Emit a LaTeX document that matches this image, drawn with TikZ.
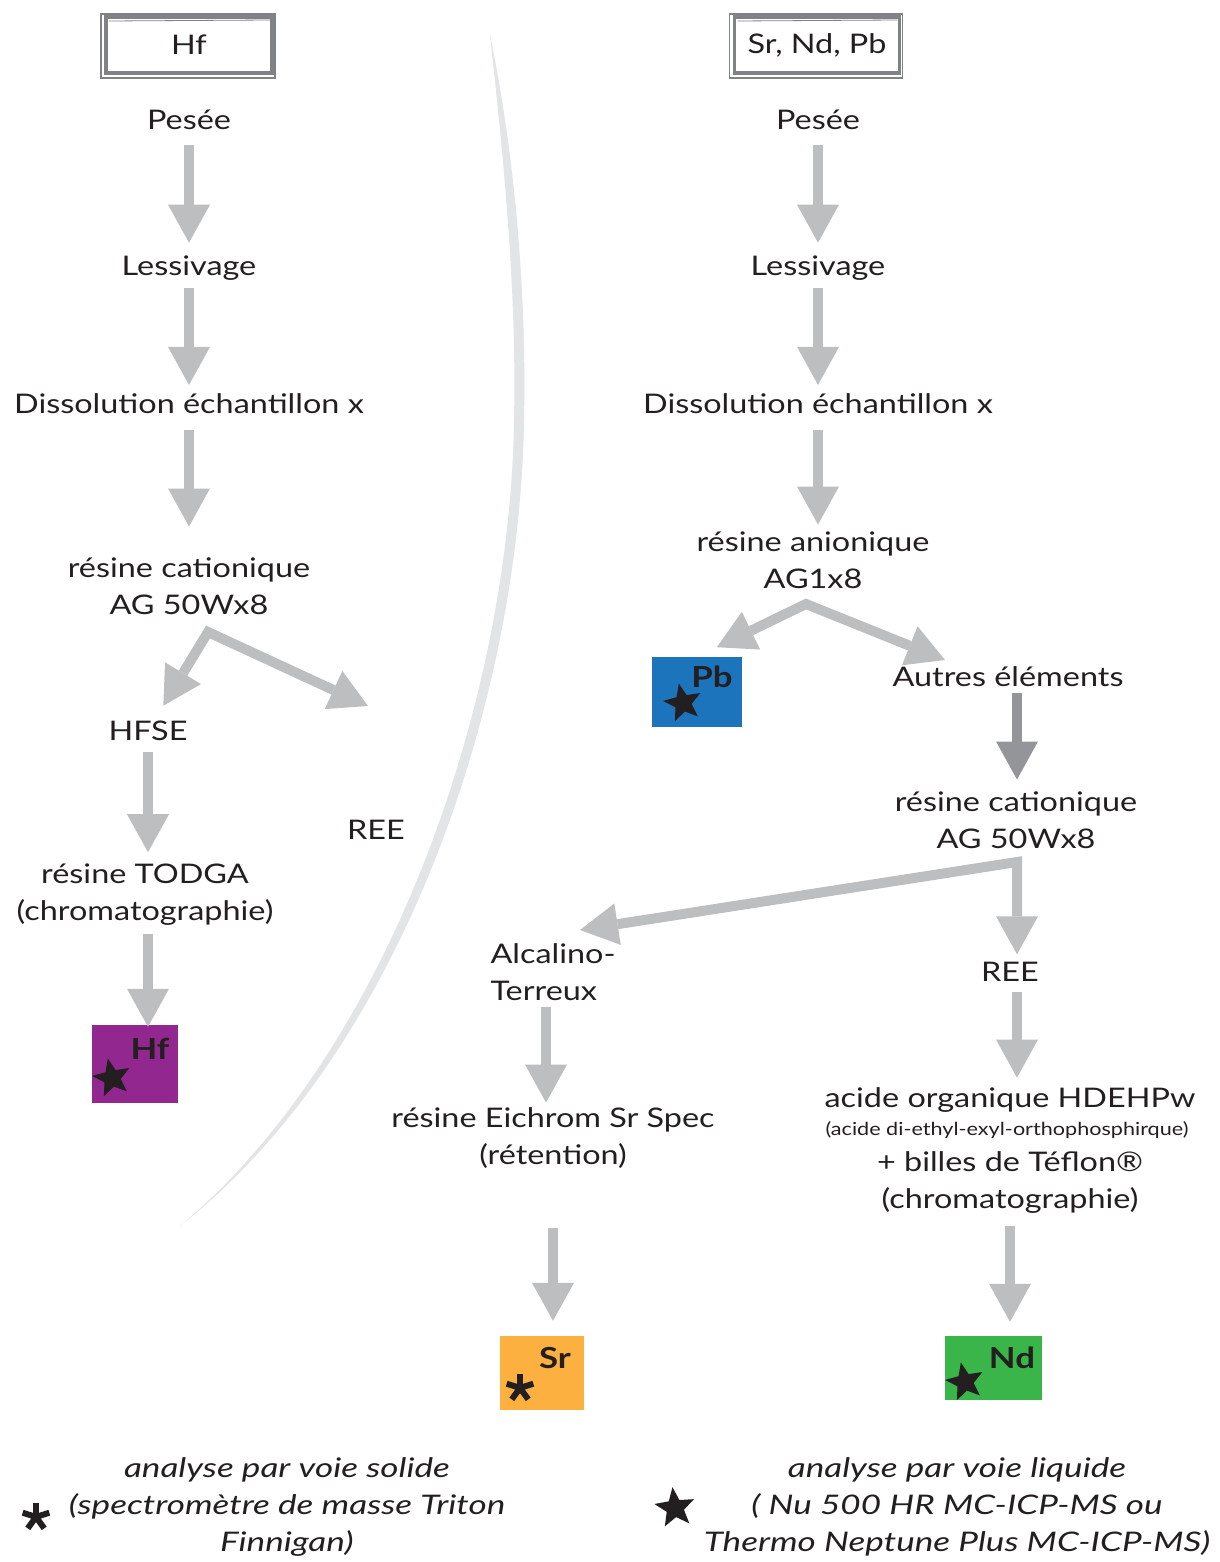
\documentclass[tikz,border=0pt]{standalone}
\usepackage{fontspec}
\setmainfont{Lato}[FakeStretch=1.2]
\newfontfamily\legendfont{Lato}[FakeStretch=1.3]
\usetikzlibrary{arrows.meta,positioning,calc,shapes.geometric}
\definecolor{inkdark}{HTML}{231F20}
\definecolor{flowgray}{HTML}{BCBEC0}
\definecolor{flowdeep}{HTML}{939598}
\definecolor{framegray}{HTML}{808285}
\definecolor{arcgray}{HTML}{E3E4E5}
\definecolor{hfpurple}{HTML}{92278F}
\definecolor{pbblue}{HTML}{1C75BC}
\definecolor{srorange}{HTML}{FBB040}
\definecolor{ndgreen}{HTML}{39B54A}
\tikzset{
  astk/.pic={\foreach \a in {270,342,54,126,198} \draw[inkdark,line width=6pt] (0,0) -- (\a:14);},
}

\begin{document}
\begin{tikzpicture}[x=1pt,y=-1pt,
  txt/.style={text=inkdark,font=\fontsize{27}{37}\selectfont,align=center,inner sep=0pt,outer sep=0pt},
  subtxt/.style={txt,font=\fontsize{18}{22}\selectfont},
  legend/.style={txt,font=\legendfont\fontsize{27}{37}\selectfont\itshape},
  titlebox/.style={txt,draw=framegray,line width=3.5pt,fill=white,minimum width=166pt,minimum height=56pt},
  elembox/.style={inner sep=0pt,minimum width=#1},
  tag/.style={text=inkdark,font=\fontsize{29}{30}\selectfont\bfseries,inner sep=0pt},
  starmark/.style={star,star points=5,star point ratio=2.3,fill=inkdark,inner sep=0pt,minimum size=40pt,rotate=12},
  flow/.style={draw=flowgray,line width=10pt,-{Triangle[width=42pt,length=38pt,line width=0pt]}},
  flowdark/.style={flow,draw=flowdeep,-{Triangle[width=42pt,length=38pt,line width=0pt,fill=flowdeep]}},
  split/.style={draw=flowgray,line width=10pt,line join=miter,
    {Triangle[width=42pt,length=38pt,line width=0pt]}-{Triangle[width=42pt,length=38pt,line width=0pt]}}]
\useasboundingbox (0,0) rectangle (1219,1562);

% dividing stroke
\fill[arcgray] (490,35) .. controls (512,140) and (527,280) .. (524,420)
  .. controls (520,700) and (402,1052) .. (180,1226)
  .. controls (390,1050) and (510,700) .. (514,420)
  .. controls (517,285) and (502,145) .. (490,35) -- cycle;

% ---- Hf column
\node[titlebox] (titleL) at (189,45) {Hf};
\draw[framegray,line width=1.5pt] ($(titleL.north west)+(-5,-3)$) rectangle ($(titleL.south east)+(3,5)$);
\draw[framegray,line width=0.8pt] ($(titleL.north west)+(3,4)$) -- ($(titleL.north east)+(-2,3)$);
\node[txt] (pesL) at (189,120) {Pesée};
\node[txt] (lesL) at (189,268) {Lessivage};
\node[txt] (disL) at (189,404) {Dissolution échantillon x};
\node[txt] (catL) at (189,586) {résine cationique\\AG 50Wx8};
\node[txt] (hfse) at (148,731) {HFSE};
\node[txt] (reeL) at (376,830) {REE};
\node[txt] (todga) at (145,895) {résine TODGA\\(chromatographie)};
\node[elembox=86pt,minimum height=78pt,fill=hfpurple] (hfbox) at (135,1064) {};
\node[tag] (hftag) at (150,1049) {Hf};
\node[starmark] (hfstar) at (112,1078) {};

\coordinate (apexL) at (208,632);
\coordinate (reeTipL) at (368,706);
\draw[flow,shorten <=15pt,shorten >=13pt] (pesL) -- (lesL);
\draw[flow,shorten <=8pt,shorten >=9pt] (lesL) -- (disL);
\draw[flow,shorten <=16pt,shorten >=31pt] (disL) -- (catL);
\draw[split,shorten <=18pt] (hfse) -- (apexL) -- (reeTipL);
\draw[flow,shorten <=11pt,shorten >=12pt] (hfse) -- (todga.north -| hfse);
\draw[flow,shorten <=8pt,shorten >=-2pt] (todga.south -| hfse) -- (hfbox.north -| hfse);

% ---- Sr, Nd, Pb column
\node[titlebox,minimum width=165pt] (titleR) at (817,45) {Sr, Nd, Pb};
\draw[framegray,line width=1.5pt] ($(titleR.north west)+(-5,-3)$) rectangle ($(titleR.south east)+(3,5)$);
\draw[framegray,line width=0.8pt] ($(titleR.north west)+(3,4)$) -- ($(titleR.north east)+(-2,3)$);
\node[txt] (pesR) at (818,120) {Pesée};
\node[txt] (lesR) at (818,268) {Lessivage};
\node[txt] (disR) at (818,404) {Dissolution échantillon x};
\node[txt] (anion) at (813,560) {résine anionique\\AG1x8};
\node[elembox=90pt,minimum height=70pt,fill=pbblue] (pbbox) at (697,692) {};
\node[tag] (pbtag) at (712,677) {Pb};
\node[starmark] (pbstar) at (683,703) {};
\node[txt] (autres) at (1008,677) {Autres éléments};
\node[txt] (catR) at (1016,820) {résine cationique\\AG 50Wx8};
\node[txt,align=left] (alcal) at (553,972) {Alcalino-\\Terreux};
\node[txt] (reeR) at (1010,972) {REE};
\node[txt] (eich) at (553,1138) {résine Eichrom Sr Spec\\(rétention)};
\node[txt] (hdehp) at (1010,1100) {acide organique HDEHPw};
\node[subtxt] (hdehpSub) at (1007,1130) {(acide di-ethyl-exyl-orthophosphirque)};
\node[txt] (teflon) at (1010,1183) {+ billes de Téflon®\\(chromatographie)};
\node[elembox=84pt,minimum height=74pt,fill=srorange] (srbox) at (542,1373) {};
\node[tag] (srtag) at (555,1358) {Sr};
\pic at (520,1388) {astk};
\node[elembox=97pt,minimum height=64pt,fill=ndgreen] (ndbox) at (993,1368) {};
\node[tag] (ndtag) at (1012,1358) {Nd};
\node[starmark] (ndstar) at (965,1382) {};

\coordinate (apexA) at (806,604);
\coordinate (autTip) at (945,660);
\coordinate (apexC) at (1017,862);
\coordinate (alcTip) at (580,930);
\draw[flow,shorten <=15pt,shorten >=13pt] (pesR) -- (lesR);
\draw[flow,shorten <=8pt,shorten >=9pt] (lesR) -- (disR);
\draw[flow,shorten <=16pt,shorten >=7pt] (disR) -- (anion.north -| disR);
\draw[split,shorten <=22pt] (pbbox.north) -- (apexA) -- (autTip);
\draw[flowdark,shorten <=6pt,shorten >=12pt] (autres.south -| apexC) -- (catR.north -| apexC);
\draw[split,shorten >=8pt] (alcTip) -- (apexC) -- (reeR.north -| apexC);
\draw[flow,shorten <=6pt,shorten >=5pt] ($(alcal.south)+(-7,0)$) -- ($(eich.north)+(-7,0)$);
\draw[flow,shorten <=10pt,shorten >=10pt] (reeR.south -| apexC) -- (hdehp.north -| apexC);
\draw[flow,shorten <=60pt,shorten >=15pt] (eich.south) -- (srbox.north -| eich.south);
\draw[flow,shorten <=12pt,shorten >=14pt] (teflon) -- (ndbox.north -| teflon);

% ---- legend
\pic at (36,1517) {astk};
\node[legend] (legSolid) at (287,1507) {analyse par voie solide\\(spectromètre de masse Triton\\Finnigan)};
\node[starmark,minimum size=42pt,rotate=-5] (legStar) at (675,1508) {};
\node[legend] (legLiquid) at (957,1507) {analyse par voie liquide\\( Nu 500 HR MC-ICP-MS ou\\Thermo Neptune Plus MC-ICP-MS)};
\end{tikzpicture}
\end{document}
